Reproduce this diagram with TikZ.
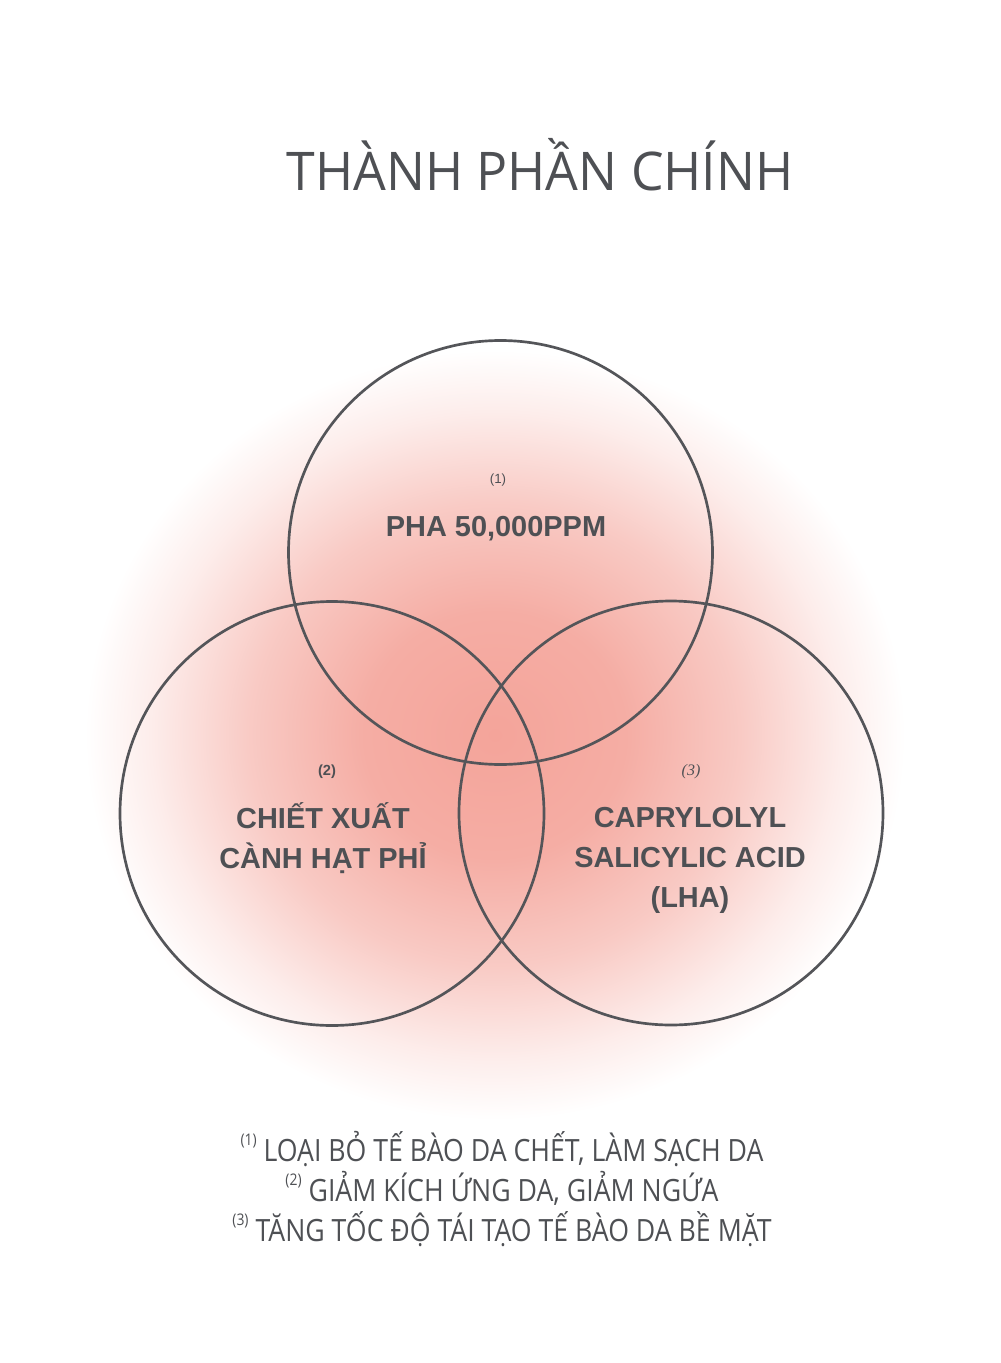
\documentclass[tikz,border=0pt]{standalone}
\usepackage{fontspec}
\setmainfont{Open Sans}
\newfontfamily\notefont[FakeStretch=0.87]{Open Sans}
\newfontfamily\titlefont[FakeStretch=0.97]{Open Sans}
\newfontfamily\labelfont{Liberation Sans}
\newfontfamily\numfont{Liberation Serif}
\usetikzlibrary{positioning}
\definecolor{VennLine}{RGB}{84,85,89}
\definecolor{VennText}{RGB}{78,80,84}
\definecolor{VennGlow}{RGB}{244,164,154}
\pgfdeclareradialshading{vennglow}{\pgfpoint{0bp}{0bp}}{%
  color(0bp)=(VennGlow); color(8bp)=(VennGlow!90); color(15bp)=(VennGlow!58);
  color(21bp)=(VennGlow!20); color(25bp)=(white); color(50bp)=(white)}

\begin{document}
\begin{tikzpicture}[x=0.75pt,y=-0.75pt,
  ring/.style={circle,draw=VennLine,line width=2pt,minimum size=318pt,inner sep=0pt},
  tag/.style={text=VennText,font=\labelfont\fontsize{10pt}{12pt}\selectfont},
  item/.style={text=VennText,align=center,anchor=base,font=\labelfont\bfseries\fontsize{21.7pt}{30pt}\selectfont},
  note/.style={text=VennText,font=\notefont\fontsize{23pt}{30pt}\selectfont,anchor=base}]
\useasboundingbox[fill=white] (0,0) rectangle (1000,1363);
% soft pink glow behind the rings
\shade[shading=vennglow] (495,735) ellipse [x radius=410,y radius=385];
% title
\node[text=VennText,anchor=base,font=\titlefont\fontsize{40pt}{48pt}\selectfont] (title) at (540,190) {THÀNH PHẦN CHÍNH};
% the three rings
\node[ring] (pha) at (500.5,552.5) {};
\node[ring] (chiet) at (332,813.5) {};
\node[ring] (lha) at (671,813) {};
% labels in the rings
\node[tag] (t1) at (498,480) {(1)};
\node[item] (l1) at (496,536) {PHA 50,000PPM};
\node[tag,font=\labelfont\bfseries\fontsize{11pt}{12pt}\selectfont] (t2) at (327,772) {(2)};
\node[item] (l2) at (323,868) {CHIẾT XUẤT\\CÀNH HẠT PHỈ};
\node[tag,font=\numfont\itshape\fontsize{12pt}{12pt}\selectfont] (t3) at (691,772) {(3)};
\node[item] (l3) at (690,907) {CAPRYLOLYL\\SALICYLIC ACID\\(LHA)};
% notes below
\node[note] (n1) at (502,1161) {\raisebox{0.5em}{\fontsize{12pt}{12pt}\selectfont(1)} LOẠI BỎ TẾ BÀO DA CHẾT, LÀM SẠCH DA};
\node[note] (n2) at (502,1201) {\raisebox{0.5em}{\fontsize{12pt}{12pt}\selectfont(2)} GIẢM KÍCH ỨNG DA, GIẢM NGỨA};
\node[note] (n3) at (502,1241) {\raisebox{0.5em}{\fontsize{12pt}{12pt}\selectfont(3)} TĂNG TỐC ĐỘ TÁI TẠO TẾ BÀO DA BỀ MẶT};
\end{tikzpicture}
\end{document}
